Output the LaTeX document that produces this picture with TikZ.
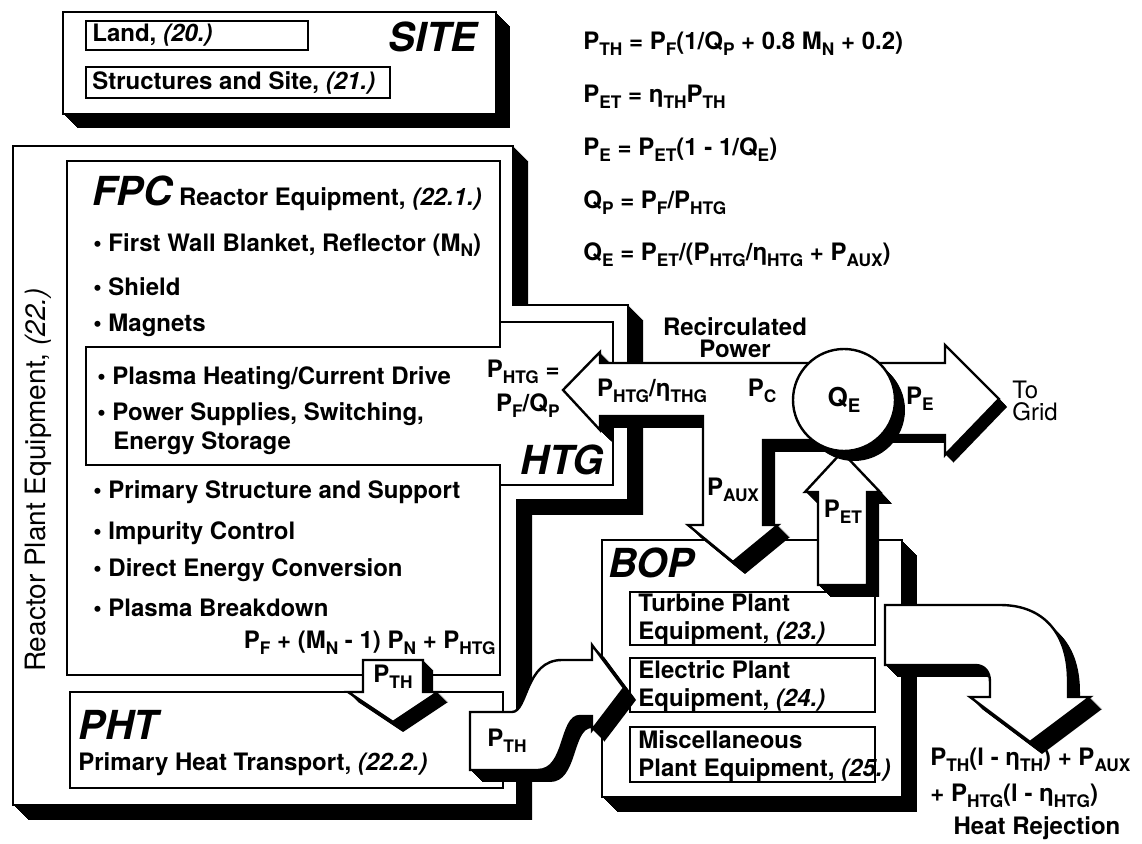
\documentclass[tikz,border=0pt]{standalone}
\usepackage{fontspec}
\setmainfont{TeX Gyre Heros}
\usepackage{graphicx}

% subscripts as the picture prints them
\newcommand{\dn}[1]{\raisebox{-0.45ex}{\scalebox{0.72}{#1}}}
\newcommand{\bigital}{\fontsize{20}{22}\selectfont\bfseries\itshape}
% block with a solid black extrusion to the lower right
\newcommand{\solid}[2][14]{%
  \foreach \sh in {1,...,#1}{\fill[black,shift={(\sh,\sh)}] #2;}%
  \filldraw[fill=white,draw=black,line width=1.2pt] #2;}

\begin{document}
\begin{tikzpicture}[x=0.5pt,y=-0.5pt]
  \tikzset{txt/.style={font=\fontsize{12}{14}\selectfont\bfseries, inner sep=0pt},
           ttl/.style={font=\bigital, inner sep=0pt},
           thinbox/.style={draw, line width=1pt, fill=white}}
  \useasboundingbox (0,0) rectangle (1142,844);

  % site
  \solid{(63,12) rectangle (496,114)}
  \draw[thinbox] (86,21) rectangle (308,50);
  \draw[thinbox] (86,67) rectangle (390,98);
  \node[txt, anchor=west] (land) at (92,35.5) {Land, \textit{(20.)}};
  \node[txt, anchor=west] (struct) at (92,82.5) {Structures and Site, \textit{(21.)}};
  \node[ttl, anchor=east] (site) at (478,37) {SITE};

  % equations
  \node[txt, anchor=west] (eq1) at (583,44) {P\dn{TH} = P\dn{F}(1/Q\dn{P} + 0.8 M\dn{N} + 0.2)};
  \node[txt, anchor=west] (eq2) at (583,97) {P\dn{ET} = η\dn{TH}P\dn{TH}};
  \node[txt, anchor=west] (eq3) at (583,150) {P\dn{E} = P\dn{ET}(1 - 1/Q\dn{E})};
  \node[txt, anchor=west] (eq4) at (583,203) {Q\dn{P} = P\dn{F}/P\dn{HTG}};
  \node[txt, anchor=west] (eq5) at (583,255) {Q\dn{E} = P\dn{ET}/(P\dn{HTG}/η\dn{HTG} + P\dn{AUX})};

  % reactor plant equipment
  \solid[15]{(13,146) -- (513,146) -- (513,305) -- (628,305) -- (628,500) -- (517,500) -- (517,805) -- (13,805) -- cycle}
  \node[font=\fontsize{14}{16}\selectfont, rotate=90, inner sep=0pt] (rpe) at (38,480) {Reactor Plant Equipment, \textit{(22.)}};

  % FPC and HTG
  \draw[thinbox] (67,161) rectangle (500,675);
  \draw[thinbox] (86,347) -- (500,347) -- (500,322) -- (613,322) -- (613,485) -- (500,485) -- (500,465) -- (86,465) -- cycle;
  \node[txt, anchor=base west] (fpc) at (92,206) {{\bigital FPC} Reactor Equipment, \textit{(22.1.)}};
  \node[txt, anchor=west] (wall) at (93,245) {\textbullet\ First Wall Blanket, Reflector (M\dn{N})};
  \node[txt, anchor=west] (shield) at (93,287) {\textbullet\ Shield};
  \node[txt, anchor=west] (magnets) at (93,325) {\textbullet\ Magnets};
  \node[txt, anchor=west] (heating) at (97,378) {\textbullet\ Plasma Heating/Current Drive};
  \node[txt, anchor=west] (supplies) at (97,414) {\textbullet\ Power Supplies, Switching,};
  \node[txt, anchor=west] (storage) at (113,443) {Energy Storage};
  \node[ttl, anchor=east] (htg) at (604,460) {HTG};
  \node[txt, anchor=west] (struc) at (93,492) {\textbullet\ Primary Structure and Support};
  \node[txt, anchor=west] (impur) at (93,533) {\textbullet\ Impurity Control};
  \node[txt, anchor=west] (dec) at (93,570) {\textbullet\ Direct Energy Conversion};
  \node[txt, anchor=west] (brk) at (93,608) {\textbullet\ Plasma Breakdown};
  \node[txt, anchor=east] (fpcout) at (496,643) {P\dn{F} + (M\dn{N} - 1) P\dn{N} + P\dn{HTG}};

  % PHT
  \draw[thinbox] (70,692) rectangle (503,788);
  \node[ttl, anchor=west] (pht) at (78,725) {PHT};
  \node[txt, anchor=west] (phtname) at (78,764) {Primary Heat Transport, \textit{(22.2.)}};
  \solid[10]{(363,660) -- (423,660) -- (423,692) -- (438,692) -- (393,722) -- (348,692) -- (363,692) -- cycle}
  \node[txt] (pth1) at (393,677) {P\dn{TH}};

  % BOP
  \solid[15]{(602,540) rectangle (902,797)}
  \node[ttl, anchor=west] (bop) at (608,563) {BOP};
  \draw[thinbox] (630,592) rectangle (875,645);
  \draw[thinbox] (630,658) rectangle (875,712);
  \draw[thinbox] (630,727) rectangle (875,782);
  \node[txt, anchor=west, align=left] (turb) at (638,619) {Turbine Plant\\Equipment, \textit{(23.)}};
  \node[txt, anchor=west, align=left] (elec) at (638,686) {Electric Plant\\Equipment, \textit{(24.)}};
  \node[txt, anchor=west, align=left] (misc) at (638,756) {Miscellaneous\\Plant Equipment, \textit{(25.)}};

  % thermal power into BOP
  \solid[12]{(470,712) -- (512,712) .. controls (528,712) and (525,660) .. (562,660) -- (592,660) -- (592,645) -- (624,688) -- (592,730) -- (592,716) -- (580,716) .. controls (560,716) and (566,770) .. (538,770) -- (470,770) -- cycle}
  \node[txt] (pth2) at (507,741) {P\dn{TH}};

  % recirculated power
  \solid[12]{(815,363) -- (600,363) -- (600,352) -- (563,390) -- (600,430) -- (600,416) -- (703,416) -- (703,525) -- (688,525) -- (733,562) -- (778,525) -- (763,525) -- (763,440) -- (815,440) -- cycle}
  \node[txt] (phtgeta) at (652,391) {P\dn{HTG}/η\dn{THG}};
  \node[txt] (pc) at (762,391) {P\dn{C}};
  \node[txt] (paux) at (733,490) {P\dn{AUX}};
  \node[txt, align=center, font=\fontsize{12}{11}\selectfont\bfseries] (recirc) at (735,338) {Recirculated\\Power};
  \node[txt, anchor=east] (phtgeq) at (560,372) {P\dn{HTG} =};
  \node[txt, anchor=east] (pfqp) at (560,406) {P\dn{F}/Q\dn{P}};

  % electric power
  \solid[12]{(818,585) -- (818,492) -- (805,492) -- (842,452) -- (880,492) -- (867,492) -- (867,585) -- cycle}
  \node[txt] (pet) at (843,512) {P\dn{ET}};
  \solid[8]{(870,363) -- (945,363) -- (945,345) -- (999,399) -- (945,455) -- (945,435) -- (870,435) -- cycle}
  \node[txt] (pe) at (920,399) {P\dn{E}};
  \node[anchor=west, align=left, inner sep=0pt, font=\fontsize{12}{11}\selectfont] (grid) at (1012,401) {To\\Grid};

  % heat rejection
  \solid[12]{(885,605) -- (1000,605) .. controls (1045,605) and (1068,635) .. (1068,680) -- (1068,697) -- (1090,697) -- (1030,742) -- (970,697) -- (990,697) -- (990,682) .. controls (990,672) and (985,665) .. (975,665) -- (885,665) -- cycle}
  \node[txt, anchor=north west, align=left, font=\fontsize{12}{18}\selectfont\bfseries] (heat) at (930,748) {P\dn{TH}(l - η\dn{TH}) + P\dn{AUX}\\+ P\dn{HTG}(l - η\dn{HTG})};
  \node[txt] (heatrej) at (1037,828) {Heat Rejection};

  % gain node
  \solid[10]{(844,400) circle [radius=25.5pt]}
  \node[txt, font=\fontsize{13}{15}\selectfont\bfseries] (qe) at (844,400) {Q\dn{E}};
\end{tikzpicture}
\end{document}
